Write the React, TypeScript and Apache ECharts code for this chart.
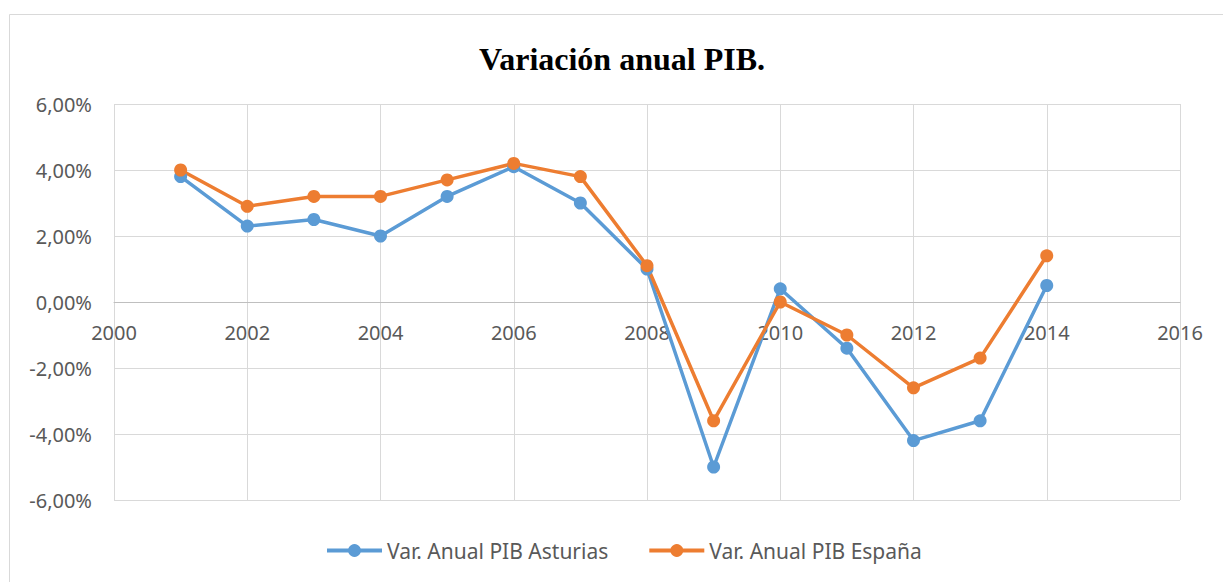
import React, { useEffect, useRef } from "react";
import * as echarts from "echarts";

const years = [2001, 2002, 2003, 2004, 2005, 2006, 2007, 2008, 2009, 2010, 2011, 2012, 2013, 2014];
const asturias = [3.8, 2.3, 2.5, 2.0, 3.2, 4.1, 3.0, 1.0, -5.0, 0.4, -1.4, -4.2, -3.6, 0.5];
const espana = [4.0, 2.9, 3.2, 3.2, 3.7, 4.2, 3.8, 1.1, -3.6, 0.0, -1.0, -2.6, -1.7, 1.4];
const seriesNames = ["Var. Anual PIB Asturias", "Var. Anual PIB España"];

export default function App() {
  const ref = useRef<HTMLDivElement>(null);
  useEffect(() => {
    if (!ref.current) return;
    const chart = echarts.init(ref.current, null, { renderer: "svg" });
    const font = "'Noto Sans', 'Open Sans', sans-serif";
    const gridTop = 104;
    const gridBottom = 82;
    const plotH = 582 - gridTop - gridBottom;
    const zeroOffset = -plotH / 2;
    chart.setOption({
      animation: false,
      backgroundColor: "#ffffff",
      title: {
        text: "Variación anual PIB.",
        left: 474,
        top: 38,
        textStyle: {
          fontFamily: "'Liberation Serif', 'Times New Roman', serif",
          fontWeight: "bold",
          fontSize: 32,
          color: "#000000",
        },
      },
      graphic: [
        {
          type: "rect",
          shape: { x: 9.5, y: 14.5, width: 1240, height: 620 },
          style: { fill: "none", stroke: "#d9d9d9", lineWidth: 1 },
          silent: true,
        },
      ],
      legend: {
        bottom: 16,
        left: 320,
        itemWidth: 55,
        itemHeight: 16,
        itemGap: 39,
        lineStyle: { width: 4 },
        textStyle: { fontFamily: font, fontSize: 21, color: "#595959" },
        data: seriesNames,
      },
      grid: { left: 114, right: 43, top: gridTop, bottom: gridBottom, containLabel: false },
      xAxis: {
        type: "value",
        min: 2000,
        max: 2016,
        interval: 2,
        offset: zeroOffset,
        axisLine: { onZero: false, lineStyle: { color: "#bfbfbf", width: 1 } },
        axisTick: { show: false },
        axisLabel: {
          margin: 20,
          fontFamily: font,
          fontSize: 20,
          color: "#595959",
          formatter: (v: number) => String(v),
        },
        splitLine: { show: true, lineStyle: { color: "#d9d9d9", width: 1 } },
      },
      yAxis: {
        type: "value",
        min: -6,
        max: 6,
        interval: 2,
        axisLine: { show: false },
        axisTick: { show: false },
        axisLabel: {
          margin: 22,
          fontFamily: font,
          fontSize: 20,
          color: "#595959",
          formatter: (v: number) => v.toFixed(2).replace(".", ",") + "%",
        },
        splitLine: { show: true, lineStyle: { color: "#d9d9d9", width: 1 } },
      },
      series: [
        {
          name: seriesNames[0],
          type: "line",
          data: years.map((y, i) => [y, asturias[i]]),
          symbol: "circle",
          symbolSize: 13,
          lineStyle: { color: "#5B9BD5", width: 3.5 },
          itemStyle: { color: "#5B9BD5" },
        },
        {
          name: seriesNames[1],
          type: "line",
          data: years.map((y, i) => [y, espana[i]]),
          symbol: "circle",
          symbolSize: 13,
          lineStyle: { color: "#ED7D31", width: 3.5 },
          itemStyle: { color: "#ED7D31" },
        },
      ],
    });
    return () => chart.dispose();
  }, []);
  return (
    <div
      ref={ref}
      style={{ position: "fixed", left: 0, top: 0, width: 1223, height: 582 }}
    />
  );
}
